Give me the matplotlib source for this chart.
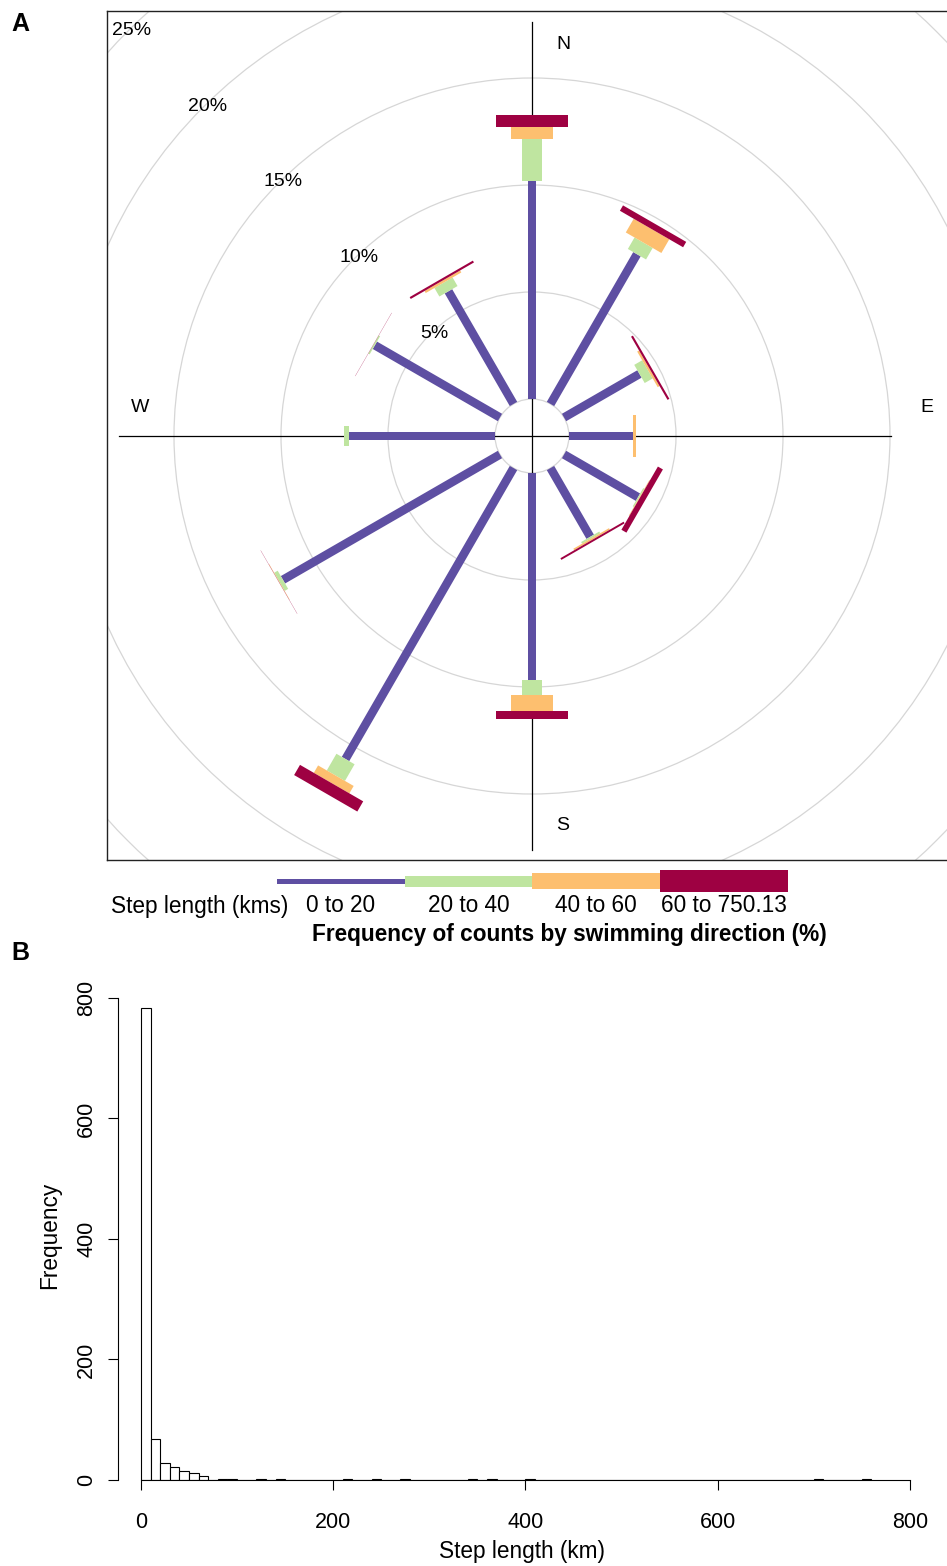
import numpy as np
import matplotlib
matplotlib.use("Agg")
import matplotlib.pyplot as plt
from matplotlib.patches import Polygon, Circle, Rectangle

plt.rcParams['font.family'] = ['Liberation Sans', 'DejaVu Sans']

# rose data: % of steps by swimming direction, split by step length class
directions = [0, 30, 60, 90, 120, 150, 180, 210, 240, 270, 300, 330]
pct_0_20 = [10.19, 8.08, 4.07, 2.99, 3.99, 3.71, 9.67, 15.70, 11.71, 6.82, 6.75, 6.08]
pct_20_40 = [1.96, 0.62, 0.43, 0.00, 0.06, 0.09, 0.70, 0.90, 0.19, 0.24, 0.07, 0.46]
pct_40_60 = [0.56, 0.74, 0.10, 0.14, 0.03, 0.08, 0.73, 0.40, 0.02, 0.00, 0.00, 0.11]
pct_60_max = [0.56, 0.29, 0.10, 0.00, 0.27, 0.09, 0.40, 0.55, 0.01, 0.00, 0.01, 0.10]
class_labels = ["0 to 20", "20 to 40", "40 to 60", "60 to 750.13"]
class_colors = ["#5E4FA2", "#BFE5A0", "#FDBF6F", "#9E0142"]
ring_pcts = [5, 10, 15, 20, 25]

# step length histogram, 10 km bins (non-empty bins only)
bin_width = 10
bin_starts = [0, 10, 20, 30, 40, 50, 60, 80, 90, 120, 140, 210, 240, 270, 340, 360, 400, 700, 750]
bin_counts = [783, 68, 29, 21, 15, 12, 6, 1, 1, 1, 1, 1, 1, 1, 1, 1, 2, 1, 1]
hist_xticks = [0, 200, 400, 600, 800]
hist_yticks = [0, 200, 400, 600, 800]

W, H = 947, 1566
fig = plt.figure(figsize=(W / 100, H / 100), dpi=100)


def fig_rect(x0, y0, x1, y1):
    # pixel box (top-left origin) -> figure fraction
    return [x0 / W, 1 - y1 / H, (x1 - x0) / W, (y1 - y0) / H]


# ---- panel A: rose ----
ax = fig.add_axes(fig_rect(107, 11, 957, 860))
scale = 21.4          # px per percent
off = 37 / scale      # white centre offset
ax.set_xlim(-425 / scale, 425 / scale)
ax.set_ylim(-424 / scale, 425 / scale)
ax.set_xticks([])
ax.set_yticks([])
for s in ax.spines.values():
    s.set_linewidth(1.0)
    s.set_color("#222222")

for p in [0] + ring_pcts:
    ax.add_patch(Circle((0, 0), off + p, fill=False, ec="#D6D6D6", lw=0.9, zorder=1))
for p in ring_pcts:
    r = off + p
    ax.text(-r / np.sqrt(2) + 0.2, r / np.sqrt(2) + 0.05, f"{p}%", ha="center", va="center",
            fontsize=14, zorder=5)

ax.plot([0, 0], [-19.35, 19.35], color="black", lw=0.9, zorder=2)
ax.plot([-19.3, 16.78], [0, 0], color="black", lw=0.9, zorder=2)

lab_r, lab_o = 18.3, 1.45
ax.text(lab_o, lab_r, "N", ha="center", va="center", fontsize=14)
ax.text(lab_r + 0.15, lab_o - 0.1, "E", ha="center", va="center", fontsize=14)
ax.text(lab_o, -lab_r + 0.1, "S", ha="center", va="center", fontsize=14)
ax.text(-lab_r, lab_o - 0.1, "W", ha="center", va="center", fontsize=14)

widths = [0.40, 0.98, 1.92, 3.41]
cum = np.cumsum(np.array([pct_0_20, pct_20_40, pct_40_60, pct_60_max]), axis=0)
for j, d in enumerate(directions):
    th = np.radians(d)
    u = np.array([np.sin(th), np.cos(th)])
    v = np.array([np.cos(th), -np.sin(th)])
    r0 = off
    for k in range(4):
        r1 = off + cum[k, j]
        if r1 > r0:
            hw = widths[k] / 2
            pts = [r0 * u - hw * v, r1 * u - hw * v, r1 * u + hw * v, r0 * u + hw * v]
            ax.add_patch(Polygon(pts, closed=True, fc=class_colors[k], ec="none", zorder=3))
        r0 = r1

# ---- legend ----
lax = fig.add_axes(fig_rect(0, 862, W, 948))
lax.set_xlim(0, W)
lax.set_ylim(948, 862)
lax.axis("off")
leg_x = [277, 405, 532, 660]
leg_h = [5, 11, 16, 22]
for k in range(4):
    lax.add_patch(Rectangle((leg_x[k], 881 - leg_h[k] / 2), 128, leg_h[k],
                            fc=class_colors[k], ec="none"))
    lax.text(leg_x[k] + 64, 906, class_labels[k], ha="center", va="center", fontsize=16.3)
lax.text(288, 906, "Step length (kms)", ha="right", va="center", fontsize=16.3)
lax.text(569, 934, "Frequency of counts by swimming direction (%)", ha="center",
         va="center", fontsize=16.3, fontweight="bold")

fig.text(20 / W, 1 - 24 / H, "A", ha="center", va="center", fontsize=18, fontweight="bold")
fig.text(20 / W, 1 - 953 / H, "B", ha="center", va="center", fontsize=18, fontweight="bold")

# ---- panel B: histogram ----
hax = fig.add_axes(fig_rect(118, 990, 925, 1480))
counts = np.zeros(76)
for s, c in zip(bin_starts, bin_counts):
    counts[s // bin_width] = c
edges = np.arange(76) * bin_width
hax.bar(edges, counts, width=bin_width, align="edge", color="white",
        edgecolor="black", lw=0.8, zorder=2)
hax.set_xlim(-23.9, 815.8)
hax.set_ylim(0, 813)
for side in ["top", "right"]:
    hax.spines[side].set_visible(False)
hax.spines["bottom"].set_bounds(0, 800)
hax.spines["left"].set_bounds(0, 800)
hax.set_xticks(hist_xticks)
hax.set_yticks(hist_yticks)
hax.set_yticklabels([str(t) for t in hist_yticks], rotation=90, va="center")
hax.tick_params(axis="both", labelsize=15.5, length=7, width=0.8)
hax.tick_params(axis="x", pad=16)
hax.tick_params(axis="y", pad=8)
hax.set_xlabel("Step length (km)", fontsize=16.3, labelpad=5)
hax.set_ylabel("Frequency", fontsize=16.3, labelpad=11)

fig.savefig("out.png", dpi=100)
